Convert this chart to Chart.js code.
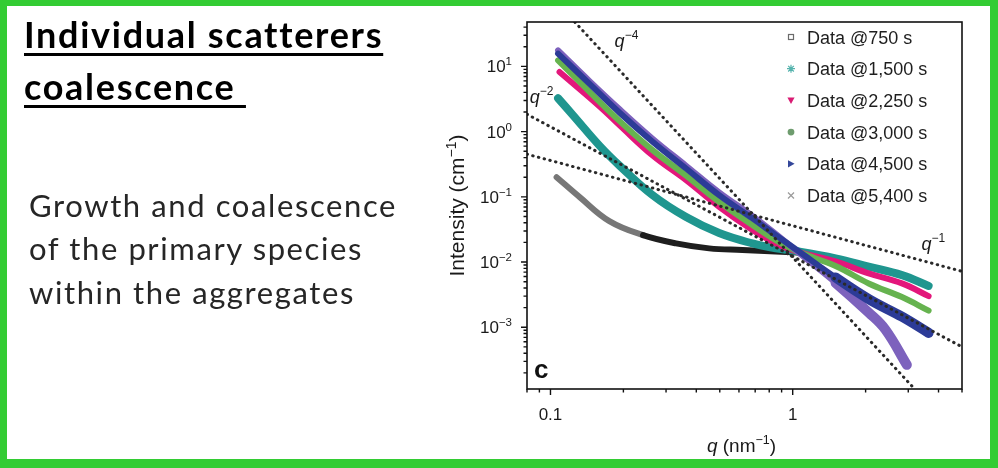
<!DOCTYPE html>
<html>
<head>
<meta charset="utf-8">
<title>Individual scatterers coalescence</title>
<script src="https://cdn.jsdelivr.net/npm/chart.js@4.4.1/dist/chart.umd.min.js"></script>
<style>
  html, body { margin: 0; padding: 0; background: #fff; }
  #page { position: relative; width: 998px; height: 468px; overflow: hidden; background: #fff; }
  #chart { position: absolute; left: 0; top: 0; }
  .frame {
    position: absolute; left: 0; top: 0; width: 998px; height: 468px; box-sizing: border-box;
    border-style: solid; border-color: #33cc33; border-width: 6px 8px 9px 7px; pointer-events: none;
  }
  .title {
    position: absolute; left: 24px; top: 8px; font-family: Lato, sans-serif; font-weight: 700;
    font-size: 36px; line-height: 52px; letter-spacing: 1.7px; color: #000; white-space: nowrap;
  }
  .title span { text-decoration: underline; text-decoration-thickness: 3px; text-underline-offset: 5px; }
  .body {
    position: absolute; left: 29px; top: 184px; font-family: Lato, sans-serif; font-size: 31px;
    line-height: 43.4px; letter-spacing: 1.6px; color: #262626; white-space: nowrap;
  }
</style>
</head>
<body>
<div id="page">
  <canvas id="chart" width="998" height="468"></canvas>
  <div class="title"><span>Individual scatterers</span><br><span>coalescence&nbsp;</span></div>
  <div class="body">Growth and coalescence<br>of the primary species<br>within the aggregates</div>
  <div class="frame"></div>
</div>
<script>
// values (q in nm^-1, intensity in cm^-1)
const q750 = [0.106, 0.132, 0.175, 0.241, 0.33, 0.452, 0.62, 0.851, 1.05];
const int750 = [0.2, 0.099, 0.0425, 0.0259, 0.0193, 0.0162, 0.0153, 0.0145, 0.014];

const q1500 = [0.1075, 0.124, 0.16, 0.193, 0.264, 0.363, 0.497, 0.682, 0.851, 1.061, 1.503, 2.06, 2.825, 3.64];
const int1500 = [3.25, 1.78, 0.6, 0.3, 0.106, 0.0489, 0.0278, 0.0193, 0.0162, 0.0145, 0.0114, 0.0085, 0.0063, 0.0043];

const q2250 = [0.109, 0.16, 0.193, 0.264, 0.363, 0.497, 0.682, 0.851, 1.061, 1.503, 2.06, 2.825, 3.64];
const int2250 = [8.2, 2.41, 1.25, 0.43, 0.18, 0.0703, 0.0309, 0.0193, 0.0142, 0.0102, 0.0067, 0.0047, 0.003];

const q3000 = [0.1075, 0.145, 0.193, 0.264, 0.363, 0.497, 0.682, 0.851, 1.061, 1.503, 2.06, 2.825, 3.64];
const int3000 = [12.4, 4.08, 1.45, 0.52, 0.212, 0.0838, 0.0369, 0.0217, 0.0142, 0.0087, 0.0047, 0.0029, 0.0018];

const q4500 = [0.1075, 0.145, 0.193, 0.264, 0.363, 0.497, 0.682, 0.851, 1.061, 1.503, 2.06, 2.825, 3.64];
const int4500 = [15.7, 5.4, 1.95, 0.7, 0.272, 0.106, 0.0467, 0.0259, 0.0145, 0.0058, 0.0027, 0.00145, 0.00082];

const q5400 = [0.1075, 0.145, 0.193, 0.264, 0.363, 0.497, 0.682, 0.851, 1.095, 1.503, 2.06, 2.414, 2.96];
const int5400 = [17.6, 5.95, 2.2, 0.78, 0.3, 0.117, 0.051, 0.027, 0.0125, 0.0048, 0.00168, 0.00092, 0.000265];

// power-law guide lines (end points)
const qGuide4 = [0.126, 3.16];
const intGuide4 = [48, 0.000117];
const qGuide2 = [0.08, 5];
const intGuide2 = [1.85, 0.0005];
const qGuide1 = [0.08, 5];
const intGuide1 = [0.451, 0.0072];

// where the q^-n labels sit (q, intensity at text baseline)
const guideLabelQ = [0.184, 0.0822, 3.4];
const guideLabelInt = [19.6, 2.72, 0.0153];
const guideExps = ['\u22124', '\u22122', '\u22121'];

const seriesNames = ['Data @750 s', 'Data @1,500 s', 'Data @2,250 s', 'Data @3,000 s', 'Data @4,500 s', 'Data @5,400 s'];
const xLabelTicks = [0.1, 1];
const yLabelExps = [1, 0, -1, -2, -3];

const X_MIN = 0.08, X_MAX = 5, Y_MIN = 1.13e-4, Y_MAX = 48;
const FONT = '"Liberation Sans", Arial, Helvetica, sans-serif';

function pts(qs, vals) {
    return qs.map((q, i) => ({ x: q, y: vals[i] }));
}

// 1..9 x 10^n ticks inside the range, decades flagged as major
function logTicks(min, max) {
    const out = [];
    for (let e = -5; e <= 2; e++) {
        for (let m = 1; m <= 9; m++) {
            const v = m * Math.pow(10, e);
            if (v >= min * 0.999 && v <= max * 1.001) out.push({ value: v, major: m === 1 });
        }
    }
    return out;
}

const styles = [
    { color: '#1e1e1e', width: 6, order: 6, marker: 'square', mcolor: '#6b6b6b' },
    { color: '#1f968f', width: 8, order: 5, marker: 'star', mcolor: '#55b3ad' },
    { color: '#e3177b', width: 6, order: 4, marker: 'triDown', mcolor: '#d91b73' },
    { color: '#66b34f', width: 6, order: 3, marker: 'circle', mcolor: '#6e9c6e' },
    { color: '#2c3b97', width: 6, order: 1, marker: 'triRight', mcolor: '#34479a' },
    { color: '#7d62bd', width: 6, order: 2, marker: 'cross', mcolor: '#9a9a9a' }
];

const seriesData = [[q750, int750], [q1500, int1500], [q2250, int2250], [q3000, int3000], [q4500, int4500], [q5400, int5400]];

const datasets = seriesData.map((d, i) => {
    const st = styles[i];
    const ds = {
        label: seriesNames[i],
        data: pts(d[0], d[1]),
        showLine: true,
        pointRadius: 0,
        borderColor: st.color,
        borderWidth: st.width,
        borderCapStyle: 'round',
        borderJoinStyle: 'round',
        tension: 0.4,
        order: st.order
    };
    if (i === 0) {
        // early part of the 750 s curve is drawn with light open squares
        ds.segment = { borderColor: c => c.p1.parsed.x < 0.26 ? '#777777' : st.color };
    }
    if (i >= 4) {
        // noisy tails at high q
        ds.segment = { borderWidth: c => c.p1.parsed.x > 1.9 ? st.width + 4 : st.width };
    }
    return ds;
});

[[qGuide4, intGuide4], [qGuide2, intGuide2], [qGuide1, intGuide1]].forEach(g => {
    datasets.push({
        label: 'guide',
        data: pts(g[0], g[1]),
        showLine: true,
        pointRadius: 0,
        borderColor: '#2a2a2a',
        borderWidth: 3,
        borderDash: [0.5, 5.4],
        borderCapStyle: 'round',
        order: 0
    });
});

function richText(ctx, parts, x, y, align) {
    let w = 0;
    const widths = parts.map(p => {
        ctx.font = p[1];
        const pw = ctx.measureText(p[0]).width;
        w += pw;
        return pw;
    });
    let cx = align === 'right' ? x - w : align === 'center' ? x - w / 2 : x;
    parts.forEach((p, i) => {
        ctx.font = p[1];
        ctx.fillText(p[0], cx, y + (p[2] || 0));
        cx += widths[i];
    });
}

function marker(ctx, kind, x, y, color) {
    ctx.save();
    ctx.fillStyle = color;
    ctx.strokeStyle = color;
    ctx.lineWidth = 1.2;
    ctx.beginPath();
    if (kind === 'square') {
        ctx.strokeRect(x - 2.5, y - 2.5, 5, 5);
    } else if (kind === 'star') {
        for (let k = 0; k < 4; k++) {
            const a = k * Math.PI / 4;
            ctx.moveTo(x - 4 * Math.cos(a), y - 4 * Math.sin(a));
            ctx.lineTo(x + 4 * Math.cos(a), y + 4 * Math.sin(a));
        }
        ctx.stroke();
    } else if (kind === 'triDown') {
        ctx.moveTo(x - 3.6, y - 3);
        ctx.lineTo(x + 3.6, y - 3);
        ctx.lineTo(x, y + 3.6);
        ctx.fill();
    } else if (kind === 'circle') {
        ctx.arc(x, y, 3.4, 0, Math.PI * 2);
        ctx.fill();
    } else if (kind === 'triRight') {
        ctx.moveTo(x - 3, y - 3.6);
        ctx.lineTo(x - 3, y + 3.6);
        ctx.lineTo(x + 3.6, y);
        ctx.fill();
    } else if (kind === 'cross') {
        ctx.moveTo(x - 3, y - 3);
        ctx.lineTo(x + 3, y + 3);
        ctx.moveTo(x + 3, y - 3);
        ctx.lineTo(x - 3, y + 3);
        ctx.stroke();
    }
    ctx.restore();
}

const axisDecor = {
    id: 'axisDecor',
    afterDraw(chart) {
        const { ctx, chartArea: a, scales: { x, y } } = chart;
        ctx.save();
        ctx.strokeStyle = '#111';
        ctx.fillStyle = '#1a1a1a';
        ctx.lineWidth = 1.6;
        ctx.strokeRect(a.left, a.top, a.right - a.left, a.bottom - a.top);

        // outward tick marks
        ctx.lineWidth = 1.4;
        ctx.beginPath();
        x.ticks.forEach(t => {
            const px = x.getPixelForValue(t.value);
            ctx.moveTo(px, a.bottom);
            ctx.lineTo(px, a.bottom + (t.major ? 6 : 3.5));
        });
        y.ticks.forEach(t => {
            const py = y.getPixelForValue(t.value);
            ctx.moveTo(a.left, py);
            ctx.lineTo(a.left - (t.major ? 6 : 3.5), py);
        });
        ctx.stroke();

        ctx.textAlign = 'left';
        ctx.textBaseline = 'alphabetic';
        const tickFont = '17px ' + FONT;
        const supFont = '11.5px ' + FONT;

        xLabelTicks.forEach(v => {
            richText(ctx, [[String(v), tickFont]], x.getPixelForValue(v), a.bottom + 31, 'center');
        });
        yLabelExps.forEach(e => {
            const py = y.getPixelForValue(Math.pow(10, e));
            const ex = e < 0 ? '\u2212' + Math.abs(e) : String(e);
            richText(ctx, [['10', tickFont], [ex, supFont, -7]], a.left - 15, py + 6, 'right');
        });

        // axis titles
        const titleFont = '19px ' + FONT;
        const titleSup = '12.5px ' + FONT;
        richText(ctx, [['q', 'italic ' + titleFont], [' (nm', titleFont], ['\u22121', titleSup, -8], [')', titleFont]],
            (a.left + a.right) / 2 - 3, a.bottom + 63, 'center');
        ctx.save();
        ctx.translate(a.left - 70, (a.top + a.bottom) / 2);
        ctx.rotate(-Math.PI / 2);
        const yTitleFont = '21px ' + FONT;
        const yTitleSup = '14px ' + FONT;
        richText(ctx, [['Intensity (cm', yTitleFont], ['\u22121', yTitleSup, -8], [')', yTitleFont]], 0, 7, 'center');
        ctx.restore();

        // power-law labels next to their guide lines
        const qFont = 'italic 18px ' + FONT;
        const qSup = '12px ' + FONT;
        guideLabelQ.forEach((gq, i) => {
            const gx = x.getPixelForValue(gq);
            const gy = y.getPixelForValue(guideLabelInt[i]);
            richText(ctx, [['q', qFont], [guideExps[i], qSup, -8]], gx, gy, 'left');
        });

        // panel letter
        ctx.font = 'bold 26px ' + FONT;
        ctx.fillStyle = '#111';
        ctx.fillText('c', a.left + 7, a.bottom - 11);

        // legend
        seriesNames.forEach((name, i) => {
            const ly = a.top + 15 + i * 31.7;
            marker(ctx, styles[i].marker, a.right - 171, ly, styles[i].mcolor);
            ctx.font = '18px ' + FONT;
            ctx.fillStyle = '#1e1e1e';
            ctx.fillText(name, a.right - 155, ly + 6.5);
        });
        ctx.restore();
    }
};

new Chart(document.getElementById('chart'), {
    type: 'scatter',
    data: { datasets: datasets },
    options: {
        responsive: false,
        animation: false,
        layout: { padding: { left: 440, right: 36, top: 22, bottom: 19 } },
        plugins: { legend: { display: false }, tooltip: { enabled: false } },
        scales: {
            x: {
                type: 'logarithmic', min: X_MIN, max: X_MAX,
                grid: { display: false, drawTicks: false }, border: { display: false },
                ticks: { display: false },
                afterBuildTicks: s => { s.ticks = logTicks(s.min, s.max); },
                afterFit: s => { s.height = 60; }
            },
            y: {
                type: 'logarithmic', min: Y_MIN, max: Y_MAX,
                grid: { display: false, drawTicks: false }, border: { display: false },
                ticks: { display: false },
                afterBuildTicks: s => { s.ticks = logTicks(s.min, s.max); },
                afterFit: s => { s.width = 87; }
            }
        }
    },
    plugins: [axisDecor]
});
</script>
</body>
</html>
